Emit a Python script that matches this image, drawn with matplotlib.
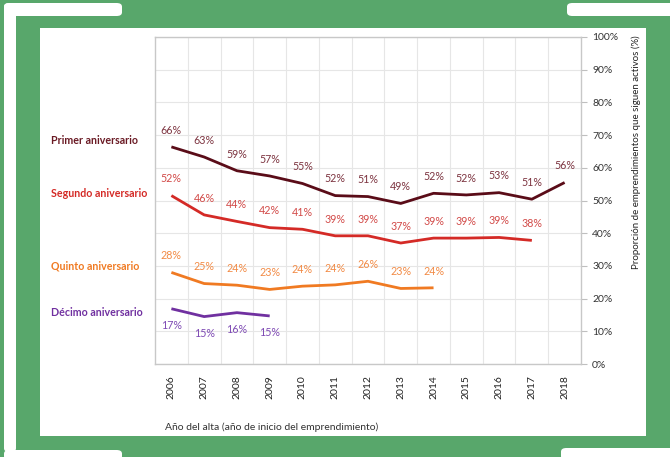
import numpy as np
import matplotlib
matplotlib.use("Agg")
import matplotlib.pyplot as plt
from matplotlib.patches import Rectangle, FancyBboxPatch
from matplotlib.ticker import PercentFormatter

plt.rcParams['font.family'] = ['Lato', 'DejaVu Sans']

years = ['2006', '2007', '2008', '2009', '2010', '2011', '2012',
         '2013', '2014', '2015', '2016', '2017', '2018']

# valores de las lineas y etiquetas mostradas
primer = [66.4, 63.3, 59.1, 57.5, 55.2, 51.5, 51.2, 49.1, 52.2, 51.7, 52.4, 50.4, 55.5]
primer_lbl = [66, 63, 59, 57, 55, 52, 51, 49, 52, 52, 53, 51, 56]
segundo = [51.5, 45.6, 43.6, 41.7, 41.2, 39.2, 39.2, 37.0, 38.5, 38.5, 38.7, 37.8]
segundo_lbl = [52, 46, 44, 42, 41, 39, 39, 37, 39, 39, 39, 38]
quinto = [28.0, 24.6, 24.1, 22.8, 23.8, 24.2, 25.3, 23.1, 23.3]
quinto_lbl = [28, 25, 24, 23, 24, 24, 26, 23, 24]
decimo = [16.9, 14.5, 15.7, 14.7]
decimo_lbl = [17, 15, 16, 15]

names = ['Primer aniversario', 'Segundo aniversario', 'Quinto aniversario', 'Décimo aniversario']
line_cols = ['#5a0c18', '#d42a26', '#f07a22', '#7030a0']
lbl_cols = ['#7d3440', '#d24a48', '#f28a44', '#7e4ab4']
name_cols = ['#6a1a24', '#d42a26', '#f07a22', '#7030a0']
name_y = [140, 193, 266, 313]

W, H = 670, 457
fig = plt.figure(figsize=(W / 100, H / 100), dpi=100)
fig.patch.set_facecolor('#58a76b')

def px(x, y):
    return x / W, 1 - y / H

# panel blanco
fig.add_artist(Rectangle(px(40, 436), (646 - 40) / W, (436 - 28) / H,
                         transform=fig.transFigure, facecolor='white', edgecolor='none', zorder=0))
# trazos decorativos
for x0, y0, x1, y1 in [(4, 3, 122, 16), (4, 3, 16, 452), (4, 450, 122, 460),
                       (567, 3, 680, 16), (561, 448, 680, 460)]:
    fig.add_artist(FancyBboxPatch(px(x0, y1), (x1 - x0) / W, (y1 - y0) / H,
                                  boxstyle='round,pad=0,rounding_size=0.008',
                                  transform=fig.transFigure, facecolor='white',
                                  edgecolor='none', zorder=0))

ax = fig.add_axes([155 / W, (H - 364) / H, (581 - 155) / W, (364 - 37) / H])
ax.set_facecolor('white')

series = [(primer, primer_lbl), (segundo, segundo_lbl), (quinto, quinto_lbl), (decimo, decimo_lbl)]
for i, (vals, lbls) in enumerate(series):
    x = np.arange(len(vals))
    ax.plot(x, vals, color=line_cols[i], lw=2.0, solid_capstyle='butt', zorder=3)
    off = -12 if i == 3 else 12
    for xi, v, l in zip(x, vals, lbls):
        ax.annotate('%d%%' % l, (xi, v), xytext=(0, off), textcoords='offset points',
                    ha='center', va='center', fontsize=7.7, color=lbl_cols[i])
    fig.text(51 / W, 1 - name_y[i] / H, names[i], color=name_cols[i], fontsize=7.7,
             fontweight='bold', ha='left', va='center')

ax.set_xlim(-0.5, 12.5)
ax.set_ylim(0, 100)
ax.set_xticks(np.arange(len(years)))
ax.set_xticklabels(years, rotation=90, fontsize=7.5, color='#222222')
ax.set_xticks(np.arange(len(years) - 1) + 0.5, minor=True)
ax.tick_params(axis='x', which='both', length=0, pad=8)
ax.yaxis.tick_right()
ax.set_yticks(np.arange(0, 101, 10))
ax.yaxis.set_major_formatter(PercentFormatter(decimals=0))
ax.tick_params(axis='y', direction='out', length=4, color='#bfbfbf', labelsize=7.5,
               labelcolor='#333333', pad=4)
ax.grid(axis='y', which='major', color='#e6e6e6', lw=0.8)
ax.grid(axis='x', which='minor', color='#e6e6e6', lw=0.8)
ax.set_axisbelow(True)
for s in ax.spines.values():
    s.set_color('#c8c8c8')
    s.set_linewidth(1.0)

fig.text(165 / W, 1 - 427 / H, 'Año del alta (año de inicio del emprendimiento)',
         fontsize=7.5, color='#333333', ha='left', va='center')
fig.text(636 / W, 1 - 152 / H, 'Proporción de emprendimientos que siguen activos (%)',
         fontsize=7.0, color='#222222', rotation=90, ha='center', va='center')

fig.savefig('out.png', dpi=100, facecolor=fig.get_facecolor())
